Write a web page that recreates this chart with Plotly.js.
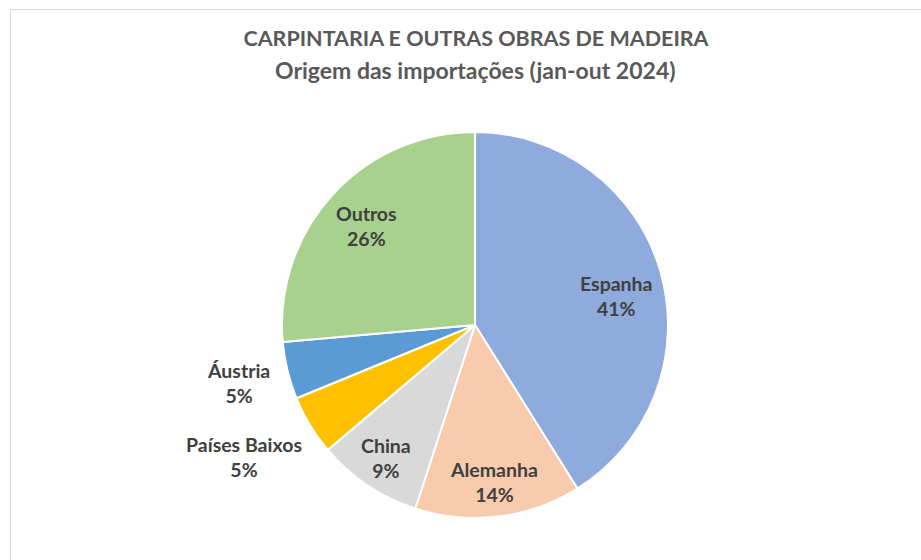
<!DOCTYPE html>
<html>
<head>
<meta charset="utf-8">
<script src="https://cdn.plot.ly/plotly-3.0.1.min.js"></script>
<style>
  html, body { margin: 0; padding: 0; background: #ffffff; overflow: hidden; }
  #chart { position: absolute; left: 0; top: 0; width: 921px; height: 560px; }
  #frame { position: absolute; left: 10px; top: 9px; width: 1000px; height: 700px;
           border: 1px solid #d9d9d9; pointer-events: none; }
</style>
</head>
<body>
<div id="chart"></div>
<div id="frame"></div>
<script>
// ---- data ----
const countries = ["Espanha", "Alemanha", "China", "Países Baixos", "Áustria", "Outros"];
const shares = [41.1, 13.9, 8.8, 5.0, 4.8, 26.4];
const titleLine1 = "CARPINTARIA E OUTRAS OBRAS DE MADEIRA";
const titleLine2 = "Origem das importações (jan-out 2024)";

// ---- style ----
const colors = ["#8FAADC", "#F8CBAD", "#D9D9D9", "#FFC000", "#5B9BD5", "#A9D18E"];
const labelRadius = [0.75, 0.82, 0.83, 1.38, 1.26, 0.76]; // label distance as fraction of radius
const labelAngleShift = [4.5, 0, 0, 1.5, 0, 0];            // degrees, clockwise
const W = 921, H = 560;
const domX = [0.3062, 0.7253], domY = [0.075, 0.7643];
const FONT = "Lato, 'Open Sans', sans-serif";

// pie geometry (same as Plotly's, derived from the domain)
const cxPx = (domX[0] + domX[1]) / 2 * W;
const cyPx = (1 - (domY[0] + domY[1]) / 2) * H;
const rPx = Math.min((domX[1] - domX[0]) * W, (domY[1] - domY[0]) * H) / 2;

const total = shares.reduce((a, b) => a + b, 0);
let cum = 0;
const annotations = shares.map((v, i) => {
  const mid = (cum + v / 2) / total * 2 * Math.PI + labelAngleShift[i] * Math.PI / 180;
  cum += v;
  const r = rPx * labelRadius[i];
  const px = cxPx + r * Math.sin(mid);
  const py = cyPx - r * Math.cos(mid);
  const pct = Math.round(v / total * 100);
  return {
    x: px / W, y: 1 - py / H, xref: "paper", yref: "paper",
    xanchor: "center", yanchor: "middle",
    text: "<b>" + countries[i] + "</b><br><b>" + pct + "%</b>",
    showarrow: false,
    font: { family: FONT, size: 19.5, color: "#404040" }
  };
});

annotations.push({
  x: 475 / W, y: 1 - 70 / H, xref: "paper", yref: "paper",
  xanchor: "center", yanchor: "middle", showarrow: false,
  text: "<b>" + titleLine2 + "</b>",
  font: { family: FONT, size: 23, color: "#595959" }
});

const trace = {
  type: "pie",
  labels: countries,
  values: shares,
  sort: false,
  direction: "clockwise",
  rotation: 0,
  marker: { colors: colors, line: { color: "#ffffff", width: 2 } },
  textinfo: "none",
  hoverinfo: "label+percent",
  showlegend: false,
  domain: { x: domX, y: domY },
  automargin: false
};

const layout = {
  width: W,
  height: H,
  margin: { l: 0, r: 0, t: 0, b: 0 },
  paper_bgcolor: "rgba(0,0,0,0)",
  plot_bgcolor: "rgba(0,0,0,0)",
  showlegend: false,
  title: {
    text: "<b>" + titleLine1 + "</b>",
    x: 476 / W,
    xanchor: "center",
    y: 1 - 38 / H,
    yanchor: "middle",
    font: { family: FONT, size: 21.5, color: "#595959" }
  },
  annotations: annotations
};

Plotly.newPlot("chart", [trace], layout, { displayModeBar: false, staticPlot: true });
</script>
</body>
</html>
